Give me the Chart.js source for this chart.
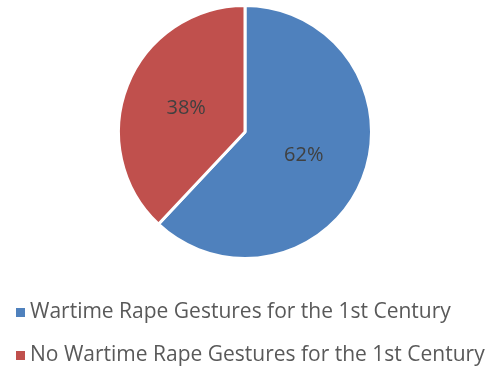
<!DOCTYPE html>
<html lang="en">

<head>
    <meta charset="UTF-8">
    <title>Wartime Rape Gestures</title>
    <script src="https://cdn.jsdelivr.net/npm/chart.js"></script>
    <style>
        body {
            margin: 0;
            background: white;
        }

        .wrap {
            width: 488px;
            height: 374px;
        }
    </style>
</head>

<body>
    <div class="wrap">
        <canvas id="pieChart" width="488" height="374"></canvas>
    </div>

    <script>
        const categories = [
            "Wartime Rape Gestures for the 1st Century",
            "No Wartime Rape Gestures for the 1st Century"
        ];
        const shares = [62, 38];
        const sliceColors = ['#4F81BD', '#C0504D'];

        // percentage text in the middle of each slice
        const sliceLabels = {
            id: 'sliceLabels',
            afterDatasetsDraw(chart) {
                const ctx = chart.ctx;
                const meta = chart.getDatasetMeta(0);
                ctx.save();
                ctx.font = '20px "Open Sans"';
                ctx.fillStyle = '#404040';
                ctx.textAlign = 'center';
                ctx.textBaseline = 'middle';
                meta.data.forEach((arc, i) => {
                    const mid = (arc.startAngle + arc.endAngle) / 2;
                    const r = arc.outerRadius * 0.5;
                    const x = arc.x + Math.cos(mid) * r;
                    const y = arc.y + Math.sin(mid) * r;
                    ctx.fillText(shares[i] + '%', x, y);
                });
                ctx.restore();
            }
        };

        // legend stacked under the pie, one row per category
        const stackedLegend = {
            id: 'stackedLegend',
            afterDraw(chart) {
                const ctx = chart.ctx;
                const rows = [312, 355];
                ctx.save();
                ctx.font = '21px "Open Sans"';
                ctx.textBaseline = 'middle';
                chart.data.labels.forEach((label, i) => {
                    ctx.fillStyle = chart.data.datasets[0].backgroundColor[i];
                    ctx.fillRect(16, rows[i] - 4, 9, 9);
                    ctx.fillStyle = '#595959';
                    ctx.fillText(label, 30, rows[i]);
                });
                ctx.restore();
            }
        };

        const ctx = document.getElementById('pieChart').getContext('2d');
        new Chart(ctx, {
            type: 'pie',
            data: {
                labels: categories,
                datasets: [{
                    data: shares,
                    backgroundColor: sliceColors,
                    borderColor: '#ffffff',
                    borderWidth: 3
                }]
            },
            options: {
                responsive: false,
                animation: false,
                layout: {
                    padding: { top: 4, bottom: 114, left: 2, right: 0 }
                },
                plugins: {
                    legend: { display: false },
                    tooltip: { enabled: false }
                }
            },
            plugins: [sliceLabels, stackedLegend]
        });
    </script>
</body>

</html>
